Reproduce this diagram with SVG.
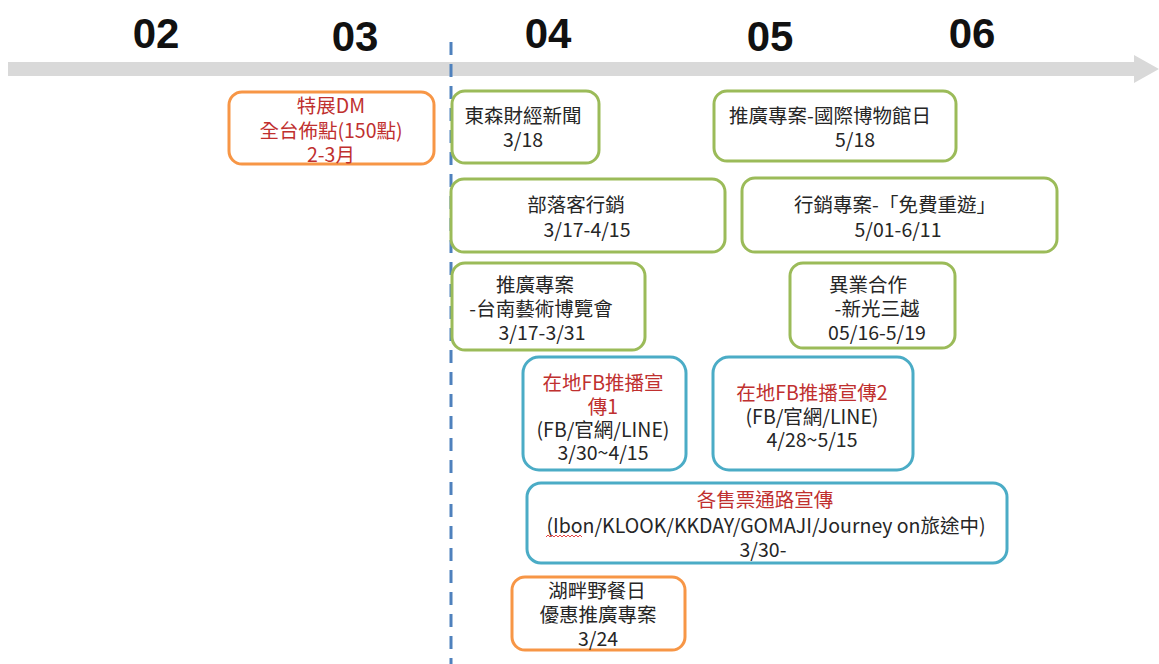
<svg xmlns="http://www.w3.org/2000/svg" width="1159" height="664" viewBox="0 0 1159 664">
<style>
.bg{fill:#ffffff}
.month{font-family:"Liberation Sans","Noto Sans",sans-serif;font-weight:bold;font-size:42px;fill:#111111;text-anchor:middle}
.t{font-family:"Noto Sans CJK TC","Noto Sans",sans-serif;font-size:19.5px;fill:#262626;text-anchor:middle;dominant-baseline:central}
.r{fill:#c0302f}
.box{fill:#ffffff;stroke-width:3}
.g{stroke:#9bbb59}
.o{stroke:#f79646}
.b{stroke:#4bacc6}
</style>
<rect class="bg" x="0" y="0" width="1159" height="664"/>
<g id="timeline">
<path d="M8,62 H1134 V55 L1159,69 L1134,83 V76 H8 Z" fill="#d9d9d9"/>
<text class="month" x="156" y="48">02</text>
<text class="month" x="355" y="51">03</text>
<text class="month" x="548" y="48">04</text>
<text class="month" x="770" y="51">05</text>
<text class="month" x="972" y="48">06</text>
</g>
<g id="connectors">
<line x1="451" y1="42" x2="451" y2="664" stroke="#4f81bd" stroke-width="3" stroke-dasharray="13,9"/>
</g>
<g id="dm">
<rect class="box o" x="229" y="92" width="205" height="72" rx="13"/>
<text class="t r" x="331" y="104">特展DM</text>
<text class="t r" x="331" y="129">全台佈點(150點)</text>
<text class="t r" x="331" y="153">2-3月</text>
</g>
<g id="ettoday">
<rect class="box g" x="452" y="91" width="147" height="72" rx="13"/>
<text class="t" x="523" y="114">東森財經新聞</text>
<text class="t" x="523" y="138">3/18</text>
</g>
<g id="museum">
<rect class="box g" x="714" y="91" width="242" height="70" rx="13"/>
<text class="t" x="830" y="114">推廣專案-國際博物館日</text>
<text class="t" x="855" y="138">5/18</text>
</g>
<g id="blogger">
<rect class="box g" x="451" y="179" width="274" height="73" rx="13"/>
<text class="t" x="576" y="203">部落客行銷</text>
<text class="t" x="587" y="228">3/17-4/15</text>
</g>
<g id="revisit">
<rect class="box g" x="742" y="178" width="315" height="74" rx="13"/>
<text class="t" x="895" y="203">行銷專案-「免費重遊」</text>
<text class="t" x="898" y="228">5/01-6/11</text>
</g>
<g id="artfair">
<rect class="box g" x="452" y="263" width="193" height="87" rx="13"/>
<text class="t" x="535" y="283">推廣專案</text>
<text class="t" x="541" y="307">-台南藝術博覽會</text>
<text class="t" x="542" y="331">3/17-3/31</text>
</g>
<g id="shinkong">
<rect class="box g" x="790" y="263" width="165" height="85" rx="13"/>
<text class="t" x="868" y="283">異業合作</text>
<text class="t" x="877" y="307">-新光三越</text>
<text class="t" x="877" y="331">05/16-5/19</text>
</g>
<g id="fb1">
<rect class="box b" x="523" y="357" width="163" height="113" rx="16"/>
<text class="t r" x="603" y="381">在地FB推播宣</text>
<text class="t r" x="603" y="405">傳1</text>
<text class="t" x="603" y="428">(FB/官網/LINE)</text>
<text class="t" x="603" y="451">3/30~4/15</text>
</g>
<g id="fb2">
<rect class="box b" x="713" y="357" width="200" height="113" rx="16"/>
<text class="t r" x="812" y="391">在地FB推播宣傳2</text>
<text class="t" x="812" y="415">(FB/官網/LINE)</text>
<text class="t" x="812" y="438">4/28~5/15</text>
</g>
<g id="ticket">
<rect class="box b" x="527" y="483" width="480" height="80" rx="14"/>
<text class="t r" x="765" y="498">各售票通路宣傳</text>
<text class="t" x="766" y="524">(Ibon/KLOOK/KKDAY/GOMAJI/Journey on旅途中)</text>
<polyline points="546,537 548,535 550,537 552,535 554,537 556,535 558,537 560,535 562,537 564,535 566,537 568,535 570,537 572,535 574,537 576,535 578,537 580,535 582,537" fill="none" stroke="#e03030" stroke-width="0.9"/>
<text class="t" x="763" y="548">3/30-</text>
</g>
<g id="picnic">
<rect class="box o" x="512" y="577" width="173" height="73" rx="13"/>
<text class="t" x="597" y="589">湖畔野餐日</text>
<text class="t" x="598" y="613">優惠推廣專案</text>
<text class="t" x="598" y="637">3/24</text>
</g>
</svg>
